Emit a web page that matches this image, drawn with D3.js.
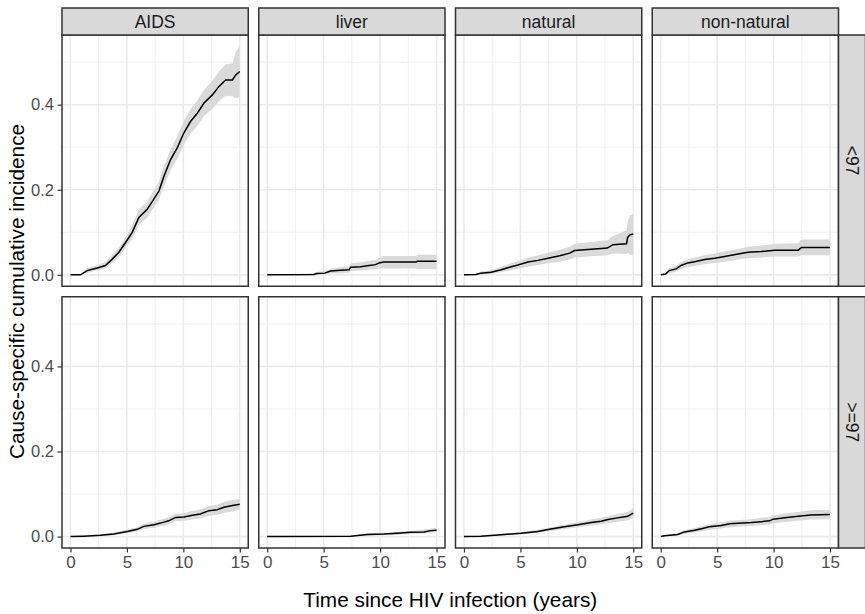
<!DOCTYPE html>
<meta charset="utf-8">
<style>
body { margin: 0; background: #fff; }
text { font-family: "Liberation Sans", Arial, Helvetica, sans-serif; }
</style>
<body>
<script src="https://cdn.jsdelivr.net/npm/d3@7"></script>
<script>
// facet labels
var causes = ["AIDS", "liver", "natural", "non-natural"];
var periods = ["<97", ">=97"];

// rows: [years, estimate, lower, upper]
var aidsEarly = [
  [0,0,0,0],[0.89,0,0,0.002],[1.48,0.010,0.005,0.016],[2.37,0.016,0.010,0.023],
  [3.1,0.022,0.015,0.030],[3.7,0.037,0.028,0.047],[4.29,0.053,0.042,0.064],
  [4.88,0.076,0.063,0.089],[5.47,0.100,0.085,0.116],[6.06,0.135,0.118,0.153],
  [6.8,0.154,0.135,0.173],[7.84,0.197,0.176,0.219],[8.28,0.232,0.209,0.256],
  [8.87,0.271,0.246,0.296],[9.47,0.299,0.273,0.325],[10.05,0.334,0.307,0.362],
  [10.65,0.361,0.332,0.390],[11.24,0.380,0.350,0.410],[11.83,0.404,0.373,0.435],
  [12.57,0.423,0.390,0.456],[13.16,0.443,0.408,0.478],[13.75,0.458,0.421,0.495],
  [14.35,0.458,0.420,0.497],[14.64,0.470,0.415,0.525],[15,0.478,0.418,0.537]
];
var liverEarly = [
  [0,0,0,0],[4.14,0.001,0,0.004],[4.4,0.003,0,0.007],[5.1,0.004,0.001,0.009],
  [5.62,0.009,0.003,0.015],[6.5,0.011,0.004,0.018],[7.25,0.012,0.005,0.019],
  [7.4,0.018,0.009,0.027],[8.28,0.019,0.010,0.029],[9.02,0.022,0.012,0.033],
  [9.6,0.024,0.013,0.035],[9.9,0.028,0.015,0.040],[10.35,0.030,0.015,0.044],
  [13.16,0.030,0.015,0.044],[13.3,0.032,0.013,0.047],[15,0.032,0.013,0.047]
];
var naturalEarly = [
  [0,0,0,0],[1.06,0.001,0,0.003],[1.5,0.004,0.001,0.008],[2.4,0.006,0.002,0.011],
  [3.3,0.012,0.006,0.019],[4.04,0.018,0.010,0.026],[4.78,0.023,0.014,0.032],
  [5.67,0.030,0.019,0.040],[6.56,0.034,0.023,0.046],[7.45,0.039,0.027,0.052],
  [8.48,0.045,0.031,0.059],[9.37,0.051,0.036,0.066],[9.8,0.057,0.041,0.073],
  [11.56,0.061,0.044,0.078],[12.15,0.062,0.045,0.080],[12.7,0.063,0.046,0.081],
  [13.2,0.071,0.050,0.091],[14.4,0.073,0.049,0.105],[14.5,0.088,0.052,0.125],
  [14.7,0.094,0.048,0.140],[15,0.096,0.045,0.143]
];
var nonnaturalEarly = [
  [0,0,0,0],[0.44,0.002,0,0.005],[0.75,0.010,0.004,0.016],[1.37,0.014,0.007,0.021],
  [1.8,0.022,0.013,0.030],[2.4,0.028,0.018,0.037],[3.0,0.031,0.021,0.041],
  [3.9,0.036,0.025,0.046],[4.78,0.039,0.028,0.050],[5.67,0.043,0.031,0.055],
  [6.85,0.049,0.036,0.061],[7.74,0.053,0.039,0.066],[8.92,0.055,0.041,0.069],
  [10.1,0.058,0.043,0.073],[12.17,0.058,0.043,0.074],[12.47,0.064,0.046,0.083],
  [15,0.064,0.046,0.083]
];
var aidsLate = [
  [0,0,0,0],[1.18,0.001,0,0.002],[2.66,0.003,0.001,0.005],[3.84,0.006,0.003,0.009],
  [5.03,0.012,0.008,0.016],[5.92,0.017,0.012,0.022],[6.5,0.024,0.018,0.030],
  [7.4,0.028,0.021,0.035],[8.28,0.034,0.026,0.042],[8.7,0.037,0.029,0.045],
  [9.32,0.045,0.036,0.054],[10.05,0.046,0.037,0.055],[10.8,0.050,0.040,0.060],
  [11.5,0.053,0.043,0.064],[12.27,0.061,0.049,0.072],[13.0,0.063,0.051,0.075],
  [13.6,0.069,0.056,0.082],[14.35,0.073,0.059,0.086],[15,0.076,0.063,0.089]
];
var liverLate = [
  [0,0,0,0],[7.4,0.001,0,0.002],[8.87,0.005,0.002,0.008],[10.35,0.006,0.003,0.009],
  [11.5,0.008,0.004,0.011],[12.7,0.010,0.006,0.014],[13.9,0.011,0.007,0.016],
  [14.5,0.014,0.009,0.019],[15,0.015,0.010,0.021]
];
var naturalLate = [
  [0,0,0,0],[1.5,0.001,0,0.002],[2.7,0.003,0.001,0.005],[3.6,0.005,0.003,0.007],
  [5.06,0.008,0.005,0.011],[6.54,0.012,0.009,0.016],[7.7,0.018,0.013,0.022],
  [8.9,0.023,0.018,0.028],[10.1,0.028,0.022,0.034],[11.27,0.033,0.026,0.040],
  [12.16,0.036,0.029,0.044],[12.75,0.040,0.032,0.048],[13.6,0.044,0.035,0.053],
  [14.5,0.048,0.038,0.058],[15,0.055,0.044,0.067]
];
var nonnaturalLate = [
  [0,0,0,0],[0.35,0.002,0,0.004],[1.5,0.005,0.002,0.008],[2.1,0.011,0.006,0.015],
  [3.0,0.015,0.010,0.020],[3.7,0.019,0.013,0.025],[4.3,0.023,0.016,0.029],
  [5.37,0.026,0.019,0.033],[6.1,0.030,0.022,0.037],[8.03,0.033,0.025,0.041],
  [8.9,0.035,0.027,0.044],[9.65,0.037,0.028,0.046],[9.95,0.041,0.031,0.050],
  [11,0.044,0.034,0.054],[12.17,0.048,0.037,0.058],[13.3,0.051,0.040,0.062],
  [15,0.052,0.041,0.063]
];

var xTicks = [0, 5, 10, 15];
var xMinor = [2.5, 7.5, 12.5];
var yTicks = [0, 0.2, 0.4];
var yMinor = [0.1, 0.3, 0.5];

var panelData = [
  [aidsEarly, liverEarly, naturalEarly, nonnaturalEarly],
  [aidsLate, liverLate, naturalLate, nonnaturalLate]
];

// ---- layout ----
var W = 865, H = 614;
var pLeft = 62, pRight = 838.5, pTop = 35, pBottom = 548;
var stripH = 27, gap = 10.5;
var pw = (pRight - pLeft - 3 * gap) / 4;
var ph = (pBottom - pTop - gap) / 2;

var svg = d3.select("body").append("svg")
  .attr("width", W).attr("height", H);

// shared scales (ggplot expands 5% each side)
var xMax = 15;
var x = d3.scaleLinear().domain([-0.05 * xMax, 1.05 * xMax]).range([0, pw]);
var yMaxData = d3.max(panelData, function(r) { return d3.max(r, function(p) { return d3.max(p, function(d) { return d[3]; }); }); });
var y = d3.scaleLinear().domain([-0.05 * yMaxData, 1.05 * yMaxData]).range([ph, 0]);

var area = d3.area().x(function(d) { return x(d[0]); })
  .y0(function(d) { return y(d[2]); }).y1(function(d) { return y(d[3]); });
var line = d3.line().x(function(d) { return x(d[0]); }).y(function(d) { return y(d[1]); });

panelData.forEach(function(row, ri) {
  row.forEach(function(pts, ci) {
    var g = svg.append("g")
      .attr("transform", "translate(" + (pLeft + ci * (pw + gap)) + "," + (pTop + ri * (ph + gap)) + ")");

    g.append("rect").attr("width", pw).attr("height", ph).attr("fill", "#fff");

    // grid
    g.selectAll(".xmin").data(xMinor).enter().append("line")
      .attr("x1", x).attr("x2", x).attr("y1", 0).attr("y2", ph)
      .attr("stroke", "#ebebeb").attr("stroke-width", 0.8);
    g.selectAll(".ymin").data(yMinor).enter().append("line")
      .attr("y1", y).attr("y2", y).attr("x1", 0).attr("x2", pw)
      .attr("stroke", "#ebebeb").attr("stroke-width", 0.8);
    g.selectAll(".xmaj").data(xTicks).enter().append("line")
      .attr("x1", x).attr("x2", x).attr("y1", 0).attr("y2", ph)
      .attr("stroke", "#ebebeb").attr("stroke-width", 1.6);
    g.selectAll(".ymaj").data(yTicks).enter().append("line")
      .attr("y1", y).attr("y2", y).attr("x1", 0).attr("x2", pw)
      .attr("stroke", "#ebebeb").attr("stroke-width", 1.6);

    g.append("path").datum(pts).attr("d", area).attr("fill", "#dadada");
    g.append("path").datum(pts).attr("d", line)
      .attr("fill", "none").attr("stroke", "#000").attr("stroke-width", 1.5);

    g.append("rect").attr("width", pw).attr("height", ph)
      .attr("fill", "none").attr("stroke", "#333").attr("stroke-width", 1.5);

    // y axis on first column
    if (ci === 0) {
      var ya = g.append("g").call(d3.axisLeft(y).tickValues(yTicks).tickFormat(d3.format(".1f")).tickSize(4.5).tickPadding(3.5));
      ya.select(".domain").remove();
      ya.selectAll("line").attr("stroke", "#333").attr("stroke-width", 1.2);
      ya.selectAll("text").attr("fill", "#4d4d4d").style("font-size", "16.5px")
        .style("font-family", "'Liberation Sans', Arial, sans-serif");
    }
    // x axis on bottom row
    if (ri === 1) {
      var xa = g.append("g").attr("transform", "translate(0," + ph + ")")
        .call(d3.axisBottom(x).tickValues(xTicks).tickSize(4.5).tickPadding(3.5));
      xa.select(".domain").remove();
      xa.selectAll("line").attr("stroke", "#333").attr("stroke-width", 1.2);
      xa.selectAll("text").attr("fill", "#4d4d4d").style("font-size", "17px")
        .style("font-family", "'Liberation Sans', Arial, sans-serif");
    }
  });
});

// top strips
causes.forEach(function(c, ci) {
  var sx = pLeft + ci * (pw + gap);
  svg.append("rect").attr("x", sx).attr("y", pTop - stripH).attr("width", pw).attr("height", stripH)
    .attr("fill", "#d9d9d9").attr("stroke", "#333").attr("stroke-width", 1.5);
  svg.append("text").attr("x", sx + pw / 2).attr("y", pTop - stripH / 2 + 6)
    .attr("text-anchor", "middle").attr("fill", "#1a1a1a").style("font-size", "17.5px").text(c);
});

// right strips
periods.forEach(function(p, ri) {
  var sy = pTop + ri * (ph + gap);
  svg.append("rect").attr("x", pRight).attr("y", sy).attr("width", stripH).attr("height", ph)
    .attr("fill", "#d9d9d9").attr("stroke", "#333").attr("stroke-width", 1.5);
  svg.append("text").attr("transform", "translate(" + (pRight + stripH / 2 - 6) + "," + (sy + ph / 2) + ") rotate(90)")
    .attr("text-anchor", "middle").attr("fill", "#1a1a1a").style("font-size", "17.5px").text(p);
});

// axis titles
svg.append("text").attr("x", (pLeft + pRight) / 2).attr("y", 607)
  .attr("text-anchor", "middle").attr("fill", "#000").style("font-size", "20.8px")
  .text("Time since HIV infection (years)");
svg.append("text").attr("transform", "translate(24," + ((pTop + pBottom) / 2) + ") rotate(-90)")
  .attr("text-anchor", "middle").attr("fill", "#000").style("font-size", "20.8px")
  .text("Cause-specific cumulative incidence");
</script>
</body>
